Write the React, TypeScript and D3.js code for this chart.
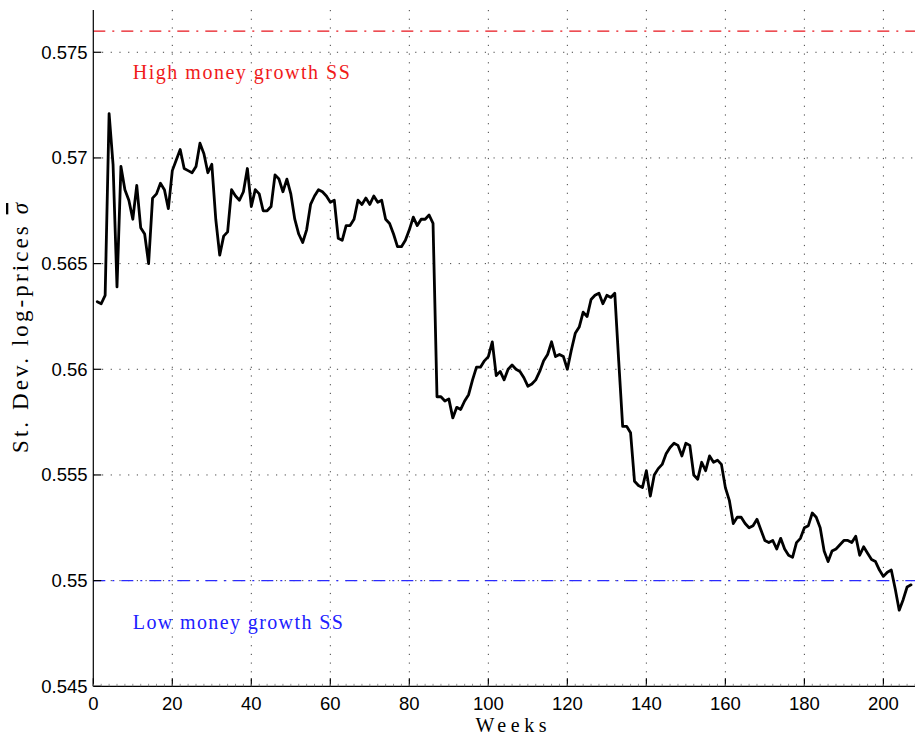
import React from "react";
import * as d3 from "d3";

// Weekly cross-sectional standard deviation of log-prices (weeks 1..207)
const firstWeek = 1;
const sigma: number[] = [
  0.5632, 0.5631, 0.5635, 0.5721, 0.5697, 0.5639, 0.5696, 0.5685, 0.5680, 0.5671,
  0.5687, 0.5667, 0.5664, 0.5650, 0.5681, 0.5683, 0.5688, 0.5685, 0.5676, 0.5694,
  0.5699, 0.5704, 0.5695, 0.5694, 0.5693, 0.5696, 0.5707, 0.5702, 0.5693, 0.5697,
  0.5671, 0.5654, 0.5663, 0.5665, 0.5685, 0.5682, 0.5680, 0.5684, 0.5695, 0.5677,
  0.5685, 0.5683, 0.5675, 0.5675, 0.5677, 0.5692, 0.5690, 0.5684, 0.5690, 0.5683,
  0.5671, 0.5664, 0.5660, 0.5666, 0.5678, 0.5682, 0.5685, 0.5684, 0.5682, 0.5679,
  0.5680, 0.5662, 0.5661, 0.5668, 0.5668, 0.5671, 0.5680, 0.5678, 0.5681, 0.5678,
  0.5682, 0.5679, 0.5680, 0.5671, 0.5669, 0.5664, 0.5658, 0.5658, 0.5661, 0.5666,
  0.5672, 0.5668, 0.5671, 0.5671, 0.5673, 0.5669, 0.5587, 0.5587, 0.5585, 0.5586,
  0.5577, 0.5582, 0.5581, 0.5585, 0.5588, 0.5595, 0.5601, 0.5601, 0.5604, 0.5606,
  0.5613, 0.5597, 0.5599, 0.5595, 0.5600, 0.5602, 0.5600, 0.5599, 0.5596, 0.5592,
  0.5593, 0.5595, 0.5599, 0.5604, 0.5607, 0.5613, 0.5606, 0.5607, 0.5606, 0.5600,
  0.5609, 0.5617, 0.5620, 0.5627, 0.5625, 0.5633, 0.5635, 0.5636, 0.5631, 0.5635,
  0.5634, 0.5636, 0.5604, 0.5573, 0.5573, 0.5570, 0.5547, 0.5545, 0.5544, 0.5552,
  0.5540, 0.5550, 0.5553, 0.5555, 0.5560, 0.5563, 0.5565, 0.5564, 0.5559, 0.5565,
  0.5564, 0.5550, 0.5548, 0.5556, 0.5552, 0.5559, 0.5556, 0.5557, 0.5555, 0.5544,
  0.5538, 0.5527, 0.5530, 0.5530, 0.5527, 0.5525, 0.5526, 0.5529, 0.5524, 0.5519,
  0.5518, 0.5519, 0.5515, 0.5520, 0.5515, 0.5512, 0.5511, 0.5518, 0.5520, 0.5525,
  0.5526, 0.5532, 0.5530, 0.5525, 0.5514, 0.5509, 0.5514, 0.5515, 0.5517, 0.5519,
  0.5519, 0.5518, 0.5521, 0.5512, 0.5516, 0.5513, 0.5510, 0.5509, 0.5505, 0.5502,
  0.5504, 0.5505, 0.5496, 0.5486, 0.5491, 0.5497, 0.5498,
];

// Steady-state reference levels
const highSS = 0.576;
const lowSS = 0.55;
const highLabel = "High money growth SS";
const lowLabel = "Low money growth SS";

// Axis ticks and labels
const xTicks = [0, 20, 40, 60, 80, 100, 120, 140, 160, 180, 200];
const yTicks = [0.545, 0.55, 0.555, 0.56, 0.565, 0.57, 0.575];
const yTickLabels = ["0.545", "0.55", "0.555", "0.56", "0.565", "0.57", "0.575"];
const xDomain: [number, number] = [0, 208];
const yDomain: [number, number] = [0.545, 0.577];

const W = 915;
const H = 736;
const left = 93.3;
const right = 915;
const top = 10;
const bottom = 686.3;

const sansFont = "'Liberation Sans', Arial, Helvetica, sans-serif";
const serifFont = "'Liberation Serif', 'Times New Roman', serif";

export default function App() {
  const x = d3.scaleLinear().domain(xDomain).range([left, right]);
  const y = d3.scaleLinear().domain(yDomain).range([bottom, top]);

  const points: [number, number][] = sigma.map((v, i) => [firstWeek + i, v]);
  const line = d3
    .line<[number, number]>()
    .x((d) => x(d[0]))
    .y((d) => y(d[1]));

  const minorTicks = d3.range(xDomain[0], xDomain[1] + 0.001, 2);

  return (
    <div style={{ position: "absolute", left: 0, top: 0 }}>
      <svg width={W} height={H} style={{ display: "block", background: "#fff" }}>
        {/* grid */}
        <g stroke="#444" strokeWidth={1} strokeDasharray="1.2,7.5" fill="none">
          {xTicks
            .filter((t) => t > xDomain[0])
            .map((t) => (
              <line key={`gx${t}`} x1={x(t)} x2={x(t)} y1={top} y2={bottom} />
            ))}
          {yTicks
            .filter((t) => t > yDomain[0])
            .map((t) => (
              <line key={`gy${t}`} x1={left} x2={right} y1={y(t)} y2={y(t)} />
            ))}
        </g>

        {/* steady-state reference lines */}
        <line
          x1={left}
          x2={right}
          y1={y(highSS)}
          y2={y(highSS)}
          stroke="#e8141c"
          strokeWidth={1.2}
          strokeDasharray="12,7,2,7"
        />
        <line
          x1={left}
          x2={right}
          y1={y(lowSS)}
          y2={y(lowSS)}
          stroke="#2a2aff"
          strokeWidth={1.2}
          strokeDasharray="12,7,2,7"
        />

        {/* series */}
        <path
          d={line(points) ?? ""}
          fill="none"
          stroke="#000"
          strokeWidth={2.8}
          strokeLinejoin="round"
          strokeLinecap="round"
        />

        {/* annotations */}
        <text
          x={x(10)}
          y={79}
          fill="#f01a1a"
          fontFamily={serifFont}
          fontSize={20}
          textLength={217}
          lengthAdjust="spacing"
        >
          {highLabel}
        </text>
        <text
          x={x(10)}
          y={628.5}
          fill="#2020ff"
          fontFamily={serifFont}
          fontSize={20}
          textLength={210}
          lengthAdjust="spacing"
        >
          {lowLabel}
        </text>

        {/* axes */}
        <g stroke="#000" strokeWidth={1.2} fill="none">
          <line x1={left} x2={left} y1={top} y2={bottom} />
          <line x1={left} x2={right} y1={bottom} y2={bottom} />
          {xTicks.map((t) => (
            <line key={`tx${t}`} x1={x(t)} x2={x(t)} y1={bottom} y2={bottom - 8} />
          ))}
          {yTicks.map((t) => (
            <line key={`ty${t}`} x1={left} x2={left + 8} y1={y(t)} y2={y(t)} />
          ))}
        </g>
        <g stroke="#777" strokeWidth={0.8}>
          {minorTicks.map((t) => (
            <line key={`mx${t}`} x1={x(t)} x2={x(t)} y1={bottom} y2={bottom - 2.5} />
          ))}
        </g>

        {/* tick labels */}
        <g fontFamily={sansFont} fontSize={18.5} fill="#000">
          {xTicks.map((t) => (
            <text key={`lx${t}`} x={x(t)} y={709.5} textAnchor="middle">
              {t}
            </text>
          ))}
          {yTicks.map((t, i) => (
            <text
              key={`ly${t}`}
              x={87.5}
              y={y(t)}
              textAnchor="end"
              dominantBaseline="central"
            >
              {yTickLabels[i]}
            </text>
          ))}
        </g>

        {/* axis titles */}
        <text
          x={511}
          y={731.5}
          textAnchor="middle"
          fontFamily={serifFont}
          fontSize={20}
          textLength={71}
          lengthAdjust="spacing"
          fill="#000"
        >
          Weeks
        </text>
        <text
          transform="translate(28,328) rotate(-90)"
          textAnchor="middle"
          fontFamily={serifFont}
          fontSize={23}
          textLength={250}
          lengthAdjust="spacing"
          fill="#000"
        >
          {"St. Dev. log-prices "}
          <tspan fontStyle="italic" style={{ textDecoration: "overline" }}>
            σ
          </tspan>
        </text>
      </svg>
    </div>
  );
}
